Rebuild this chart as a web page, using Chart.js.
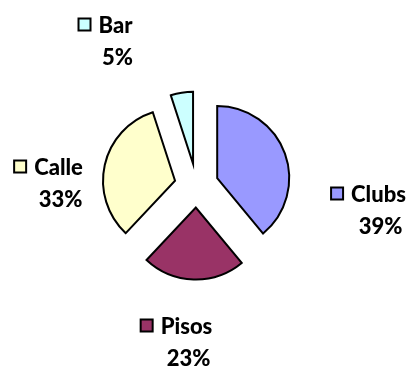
<!DOCTYPE html>
<html>
<head>
<meta charset="utf-8">
<script src="https://cdn.jsdelivr.net/npm/chart.js@4.4.1/dist/chart.umd.min.js"></script>
<style>
  html, body { margin: 0; padding: 0; background: #ffffff; }
  #wrap { width: 413px; height: 367px; position: relative; }
</style>
</head>
<body>
<div id="wrap"><canvas id="c" width="413" height="367"></canvas></div>
<script>
// Share of each venue type
const categories = ['Clubs', 'Pisos', 'Calle', 'Bar'];
const shares = [39, 23, 33, 5];
const percentLabels = ['39%', '23%', '33%', '5%'];

// Slice fills
const sliceColors = ['#9999FF', '#993366', '#FFFFCC', '#CCFFFF'];

// Layout: pie size, explosion distance, label placement (relative to pie centre)
const PIE_RADIUS = 72;
const EXPLODE = 22;
const labelAnchors = [[182, 8], [-10, 140], [-138, -19], [-81, -161]];
const LABEL_FONT = '900 22px Lato, "DejaVu Sans", sans-serif';

// Pull every slice outward along its bisector
const explodePlugin = {
  id: 'explode',
  afterDatasetsUpdate(chart) {
    const meta = chart.getDatasetMeta(0);
    meta.data.forEach((arc) => {
      if (arc._cx === undefined) { arc._cx = arc.x; arc._cy = arc.y; }
      const mid = (arc.startAngle + arc.endAngle) / 2;
      arc.x = arc._cx + Math.cos(mid) * EXPLODE;
      arc.y = arc._cy + Math.sin(mid) * EXPLODE;
    });
  }
};

// Category name with a colour key, and the percentage beneath it
const labelPlugin = {
  id: 'sliceLabels',
  afterDraw(chart) {
    const ctx = chart.ctx;
    const meta = chart.getDatasetMeta(0);
    const cx = meta.data[0]._cx, cy = meta.data[0]._cy;
    ctx.save();
    ctx.font = LABEL_FONT;
    ctx.fillStyle = '#000000';
    ctx.textAlign = 'center';
    ctx.textBaseline = 'alphabetic';
    categories.forEach((name, i) => {
      const nx = cx + labelAnchors[i][0];
      const ny = cy + labelAnchors[i][1];
      const w = ctx.measureText(name).width;
      ctx.fillText(name, nx, ny + 8);
      ctx.fillText(percentLabels[i], nx + 2, ny + 40);
      // colour key
      const size = 12;
      const kx = nx - w / 2 - 8 - size;
      const ky = ny - size / 2;
      ctx.fillStyle = sliceColors[i];
      ctx.fillRect(kx, ky, size, size);
      ctx.lineWidth = 2;
      ctx.strokeStyle = '#000000';
      ctx.strokeRect(kx, ky, size, size);
      ctx.fillStyle = '#000000';
    });
    ctx.restore();
  }
};

new Chart(document.getElementById('c'), {
  type: 'pie',
  data: {
    labels: categories,
    datasets: [{
      data: shares,
      backgroundColor: sliceColors,
      borderColor: '#000000',
      borderWidth: 2,
      borderJoinStyle: 'miter',
      radius: PIE_RADIUS
    }]
  },
  options: {
    responsive: false,
    animation: false,
    events: [],
    layout: { padding: { left: 0, right: 20, top: 4, bottom: 0 } },
    plugins: {
      legend: { display: false },
      tooltip: { enabled: false }
    }
  },
  plugins: [explodePlugin, labelPlugin]
});
</script>
</body>
</html>
